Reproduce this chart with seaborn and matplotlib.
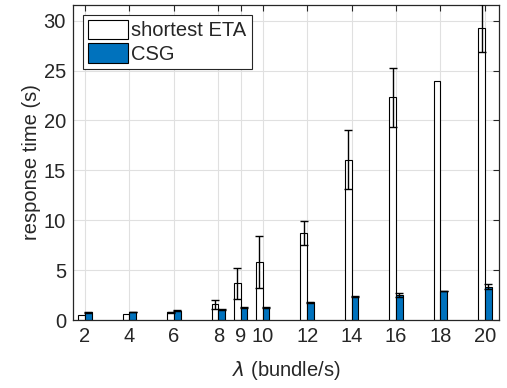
import pandas as pd
import matplotlib
matplotlib.use("Agg")
import matplotlib.pyplot as plt
import seaborn as sns

# data
lam = [2, 4, 6, 8, 9, 10, 12, 14, 16, 18, 20]
eta_mean = [0.55, 0.65, 0.8, 1.6, 3.7, 5.8, 8.7, 16.05, 22.3, 24.0, 29.3]
eta_err = [0.0, 0.0, 0.05, 0.45, 1.55, 2.6, 1.2, 2.95, 2.95, 0.0, 2.4]
csg_mean = [0.78, 0.8, 0.95, 1.05, 1.22, 1.22, 1.8, 2.35, 2.5, 2.9, 3.35]
csg_err = [0.03, 0.03, 0.03, 0.05, 0.05, 0.05, 0.06, 0.08, 0.2, 0.03, 0.22]
series = ["shortest ETA", "CSG"]
colors = {"shortest ETA": "white", "CSG": "#0072BD"}

df = pd.DataFrame({
    "lam": lam * 2,
    "val": eta_mean + csg_mean,
    "method": [series[0]] * len(lam) + [series[1]] * len(lam),
})
errs = eta_err + csg_err

sns.set_style("white")
plt.rcParams["font.family"] = ["Liberation Sans", "DejaVu Sans"]

fig = plt.figure(figsize=(5.07, 3.88), dpi=100)
ax = fig.add_axes([0.144, 0.175, 0.840, 0.813])

sns.barplot(data=df, x="lam", y="val", hue="method", hue_order=series,
            palette=colors, saturation=1, native_scale=True, width=0.6,
            errorbar=None, edgecolor="black", linewidth=0.8, ax=ax)

# error bars at the centres of the drawn bars (patches come in hue, then x order)
for b, e in zip(ax.patches[:len(errs)], errs):
    if e > 0:
        cx = b.get_x() + b.get_width() / 2
        ax.errorbar(cx, b.get_height(), yerr=e, color="black", lw=1,
                    capsize=2.8, capthick=1, zorder=5)

ax.set_xlim(1.46, 20.63)
ax.set_ylim(0, 31.6)
ax.set_xticks(lam)
ax.set_xticklabels([str(v) for v in lam])
ax.set_yticks([0, 5, 10, 15, 20, 25, 30])
ax.grid(True, color="#e0e0e0", lw=0.8)
ax.set_axisbelow(True)
ax.tick_params(direction="in", length=4, labelsize=14.5, colors="#262626",
               top=True, right=True, pad=5)
for s in ax.spines.values():
    s.set_color("#262626")
    s.set_linewidth(0.9)
ax.set_xlabel(r"$\lambda$ (bundle/s)", fontsize=14.5, color="#262626", labelpad=9)
ax.set_ylabel("response time (s)", fontsize=14.5, color="#262626", labelpad=2)

leg = ax.legend(loc="upper left", fontsize=14.5, frameon=True, fancybox=False,
                framealpha=1, edgecolor="#262626", handlelength=2.0,
                handleheight=1.1, handletextpad=0.15, borderpad=0.25,
                labelspacing=0.15, borderaxespad=0.5)
leg.get_frame().set_linewidth(0.8)
for h in leg.legend_handles:
    h.set_edgecolor("black")

fig.savefig("out.png", dpi=100)
